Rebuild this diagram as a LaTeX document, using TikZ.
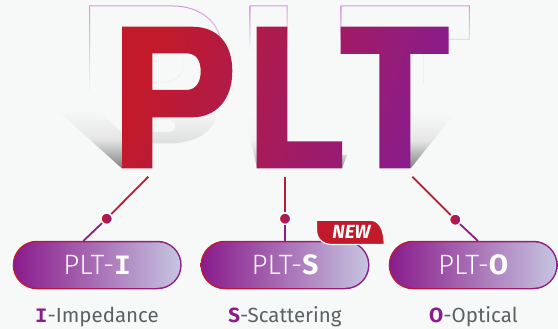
\documentclass[tikz,border=0pt]{standalone}
\usepackage{fontspec}
\setmainfont{Fira Sans}
\newfontfamily\lightfont{Fira Sans Light}
\newfontfamily\slabfont{Liberation Mono}
\usetikzlibrary{shapes.misc}
\definecolor{pagebg}{HTML}{F7F9F9}
\definecolor{plred}{HTML}{C21A2A}
\definecolor{plpurple}{HTML}{8A1C8C}
\definecolor{pllilac}{HTML}{C6C4E0}
\definecolor{ghostline}{HTML}{D596DC}
\definecolor{labelgrey}{HTML}{5C6166}
\tikzset{
	pillrim/.style={rounded rectangle, minimum width=169pt, minimum height=48.5pt, inner sep=0pt, left color=plred, right color=plpurple},
	pillbody/.style={rounded rectangle, minimum width=166pt, minimum height=45.5pt, inner sep=0pt, left color=plpurple, right color=pllilac, text=white, font=\lightfont\fontsize{28}{28}\selectfont},
	joint/.style={circle, minimum size=11.5pt, inner sep=0pt, draw=white, line width=1.5pt, left color=plred, right color=plpurple!85!plred},
	linktop/.style={line width=1.8pt, color=plred!92!plpurple},
	linkbot/.style={line width=1.8pt, color=plpurple!85!plred},
	caption/.style={text=labelgrey, font=\fontsize{20.5}{20.5}\selectfont, anchor=base},
	ghost/.style={top color=ghostline, bottom color=pagebg, even odd rule},
	dropshade/.style={top color=pagebg, bottom color=black!50, middle color=black!10},
}
\begin{document}
\begin{tikzpicture}[x=1pt,y=-1pt]
	\useasboundingbox (0,0) rectangle (558,329);
	\fill[pagebg] (0,0) rectangle (558,329);

	%%%%% outlines behind
	\shade[ghost] (89,5.5) -- (173,5.5) .. controls (200,5.5) and (222.5,22) .. (222.5,50) .. controls (222.5,76) and (204,95) .. (176,95) -- (89,95) -- cycle
		(90,6.5) -- (173,6.5) .. controls (199.5,6.5) and (221.5,22.5) .. (221.5,50) .. controls (221.5,75.5) and (204,94) .. (176,94) -- (90,94) -- cycle;
	\shade[ghost] (249.5,5.5) -- (287.7,5.5) -- (287.7,50) -- (249.5,50) -- cycle
		(250.5,6.5) -- (286.7,6.5) -- (286.7,49) -- (250.5,49) -- cycle;
	\shade[ghost, bottom color=ghostline!30!pagebg] (340.7,5.5) -- (469.9,5.5) -- (469.9,40) -- (340.7,40) -- cycle
		(341.7,6.5) -- (468.9,6.5) -- (468.9,39) -- (341.7,39) -- cycle;
	\fill[ghostline!12!pagebg] (422.7,54) rectangle (423.6,85);
	\draw[draw=ghostline!18!pagebg] (183,53) -- (183,66) .. controls (183,76) and (175,82) .. (163,82) -- (152,82);

	%%%%% shadows
	\shade[dropshade] (122,168.5) -- (57,110) -- (98,110) -- (122,133) -- cycle;
	\shade[top color=pagebg, bottom color=black!13, even odd rule] (152,110) -- (216,110) .. controls (219,130) and (196,143.5) .. (168,143.5) -- (152,143.5) -- cycle
		(152,120) -- (168,120) .. controls (178,120) and (178,132) .. (168,132) -- (152,132) -- cycle;
	\shade[top color=pagebg, bottom color=black!28, middle color=black!4] (257,168.5) -- (244,110) -- (257,110) -- cycle;
	\shade[top color=black!18, bottom color=black!40] (342,168.5) -- (347,155) -- (342,155) -- cycle;
	\shade[dropshade] (410.5,168.5) -- (455,113) -- (410.5,113) -- cycle;

	%%%%% big letters
	\shade[left color=plred, right color=plpurple, shading angle=70, even odd rule]
		(122,26.7) -- (192,26.7) .. controls (218,26.7) and (232.3,44) .. (232.3,71) .. controls (232.3,100) and (216,117.3) .. (192,117.3) -- (152.3,117.3) -- (152.3,168.3) -- (122,168.3) -- cycle
		(152.3,53.3) -- (152.3,90) -- (186,90) .. controls (196,90) and (200.7,82) .. (200.7,71.5) .. controls (200.7,60) and (196,53.3) .. (186,53.3) -- cycle
		(256.7,26.7) -- (287.3,26.7) -- (287.3,141.3) -- (342,141.3) -- (342,168.3) -- (256.7,168.3) -- cycle
		(340.7,26.7) -- (448.7,26.7) -- (448.7,54) -- (410.3,54) -- (410.3,168.3) -- (379.3,168.3) -- (379.3,54) -- (340.7,54) -- cycle;

	%%%%% pills
	\node[pillrim] (rimI) at (97.2,265) {};
	\node[pillbody] (pillI) at (97.2,265) {PLT-{\slabfont\bfseries I}};
	\node[pillrim] (rimS) at (285,265) {};
	\node[pillbody] (pillS) at (285,265) {PLT-{\fontspec{Fira Sans}\bfseries S}};
	\node[pillrim] (rimO) at (473.2,265) {};
	\node[pillbody] (pillO) at (473.2,265) {PLT-{\fontspec{Fira Sans}\bfseries O}};

	%%%%% connectors
	\coordinate (startI) at (148.3,176.7);
	\coordinate (startS) at (285,176.7);
	\coordinate (startO) at (412.3,176.7);
	\coordinate (endI) at (83.3,241);
	\coordinate (endS) at (285,241);
	\coordinate (endO) at (478,241);
	\node[joint] (dotI) at (106.7,218.7) {};
	\node[joint] (dotS) at (285,218.7) {};
	\node[joint] (dotO) at (455.3,219.7) {};
	\draw[linktop] (startI) -- (dotI);
	\draw[linkbot] (dotI) -- (endI);
	\draw[linktop] (startS) -- (dotS);
	\draw[linkbot] (dotS) -- (endS);
	\draw[linktop] (startO) -- (dotO);
	\draw[linkbot] (dotO) -- (endO);

	%%%%% tag
	\draw[fill=plred, draw=pagebg, line width=1.2pt] (316.5,220.2) -- (370,220.2) .. controls (379,220.2) and (384.2,229) .. (384.2,244.5) -- (332,244.5) .. controls (322,244.5) and (316.5,238) .. (316.5,230) -- cycle;
	\node[text=white, font=\bfseries\itshape\fontsize{19}{19}\selectfont] (tagnew) at (351.5,232) {NEW};

	%%%%% captions
	\node[caption] (capI) at (97,322.7) {\textcolor{plpurple}{\slabfont\bfseries I}-Impedance};
	\node[caption] (capS) at (285,322.7) {\textcolor{plpurple}{\bfseries S}-Scattering};
	\node[caption] (capO) at (473.5,322.7) {\textcolor{plpurple}{\bfseries O}-Optical};
\end{tikzpicture}
\end{document}
